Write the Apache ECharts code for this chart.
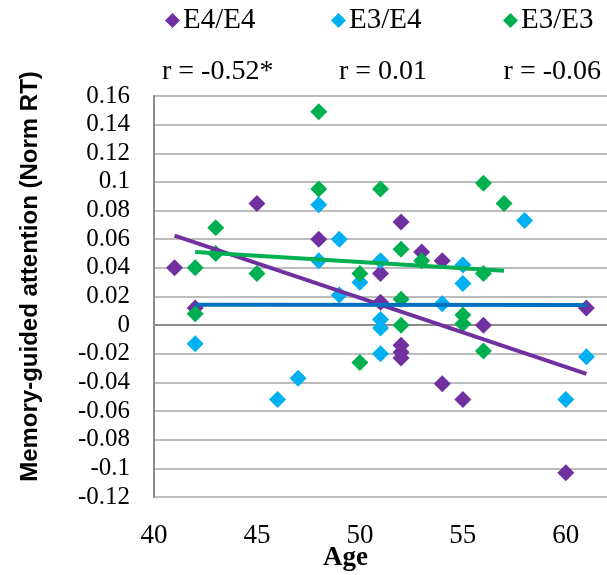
<!DOCTYPE html>
<html>
<head>
<meta charset="utf-8">
<script src="https://cdn.jsdelivr.net/npm/echarts@6/dist/echarts.min.js"></script>
<style>
  html, body { margin: 0; padding: 0; background: #fff; }
  #chart { width: 607px; height: 575px; }
</style>
</head>
<body>
<div id="chart"></div>
<script>
// 散点数据 [年龄, 值]
var e4e4Points = [
  [41, 0.040], [42, 0.012], [45, 0.085], [48, 0.060], [51, 0.036], [51, 0.016],
  [52, 0.072], [52, -0.014], [52, -0.019], [52, -0.023], [53, 0.051], [54, 0.045],
  [54, -0.041], [55, -0.052], [56, 0.000], [60, -0.103], [61, 0.012]
];
var e3e4Points = [
  [42, -0.013], [46, -0.052], [47, -0.037], [48, 0.084], [48, 0.045], [49, 0.060],
  [49, 0.021], [50, 0.030], [51, 0.045], [51, 0.004], [51, -0.002], [51, -0.020],
  [54, 0.015], [55, 0.042], [55, 0.029], [58, 0.073], [60, -0.052], [61, -0.022]
];
var e3e3Points = [
  [42, 0.040], [42, 0.008], [43, 0.068], [43, 0.050], [45, 0.036], [48, 0.149],
  [48, 0.095], [50, 0.036], [50, -0.026], [51, 0.095], [52, 0.053], [52, 0.018],
  [52, 0.000], [53, 0.045], [55, 0.007], [55, 0.001], [56, 0.099], [56, 0.036],
  [56, -0.018], [57, 0.085]
];
// 趋势线端点
var e4e4Fit = [[41, 0.0625], [61, -0.034]];
var e3e4Fit = [[42, 0.0142], [61, 0.0140]];
var e3e3Fit = [[42, 0.051], [57, 0.038]];

var groupNames = ['E4/E4', 'E3/E4', 'E3/E3'];
var rLabels = ['r = -0.52*', 'r = 0.01', 'r = -0.06'];

var colors = ['#7030A0', '#00B0F0', '#00B050'];
var fitColors = ['#7030A0', '#0070C0', '#00B050'];
var serifFont = '"Liberation Serif", "Times New Roman", serif';

var myChart = echarts.init(document.getElementById('chart'));

var pointSets = [e4e4Points, e3e4Points, e3e3Points];
var fitSets = [e4e4Fit, e3e4Fit, e3e3Fit];
var series = [];
pointSets.forEach(function (pts, i) {
  series.push({
    name: groupNames[i],
    type: 'scatter',
    symbol: 'diamond',
    symbolSize: 17,
    itemStyle: { color: colors[i], opacity: 1 },
    data: pts,
    z: 2
  });
});
fitSets.forEach(function (pts, i) {
  series.push({
    name: groupNames[i] + ' fit',
    type: 'line',
    data: pts,
    symbol: 'none',
    lineStyle: { color: fitColors[i], width: 4 },
    z: 3
  });
});

var legendLeft = [160, 326, 498];
var rPos = [{ left: 162 }, { left: 339 }, { right: 6 }];

var option = {
  animation: false,
  grid: { left: 154, right: 0, top: 96, bottom: 78, outerBoundsMode: 'none' },
  legend: groupNames.map(function (n, i) {
    return {
      data: [n],
      left: legendLeft[i],
      top: 1,
      icon: 'diamond',
      itemWidth: 15,
      itemHeight: 15,
      itemGap: 0,
      textStyle: { fontFamily: serifFont, fontSize: 29, color: '#000', padding: [0, 0, 0, -2] }
    };
  }),
  graphic: rLabels.map(function (t, i) {
    return Object.assign({
      type: 'text',
      top: 58,
      style: { text: t, fontFamily: serifFont, fontSize: 28, fill: '#000' }
    }, rPos[i]);
  }),
  xAxis: {
    type: 'value',
    min: 40,
    max: 62,
    interval: 5,
    name: 'Age',
    nameLocation: 'middle',
    nameGap: 48,
    nameMoveOverlap: false,
    nameTextStyle: { fontFamily: serifFont, fontSize: 27, fontWeight: 'bold', color: '#000', padding: [0, 70, 0, 0] },
    axisLine: { lineStyle: { color: '#8C8C8C', width: 2 } },
    axisTick: { show: false },
    splitLine: { show: false },
    axisLabel: {
      fontFamily: serifFont, fontSize: 27, color: '#000', margin: 25,
      formatter: function (v) { return v % 5 === 0 ? String(v) : ''; }
    }
  },
  yAxis: {
    type: 'value',
    min: -0.12,
    max: 0.16,
    interval: 0.02,
    name: 'Memory-guided attention (Norm RT)',
    nameLocation: 'middle',
    nameGap: 112,
    nameMoveOverlap: false,
    nameTextStyle: { fontFamily: '"Liberation Sans", Arial, sans-serif', fontSize: 24, fontWeight: 'bold', color: '#000', padding: [0, 0, 0, 40] },
    axisLine: { show: true, lineStyle: { color: '#8C8C8C', width: 2 } },
    axisTick: { show: false },
    axisLabel: { fontFamily: serifFont, fontSize: 25, color: '#000', margin: 24 },
    splitLine: { lineStyle: { color: '#A6A6A6', width: 1.5 } }
  },
  series: series
};

myChart.setOption(option);
window.addEventListener('resize', function () { myChart.resize(); });
</script>
</body>
</html>
